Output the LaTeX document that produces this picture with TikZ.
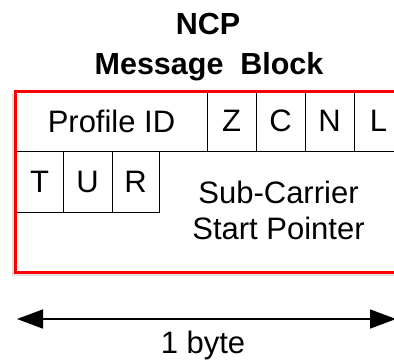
\documentclass[tikz,border=0pt]{standalone}
\usepackage{fontspec}
\setmainfont{Liberation Sans}
\usetikzlibrary{arrows.meta}

\begin{document}
\begin{tikzpicture}[x=1pt, y=-1pt, >={Triangle[length=26pt,width=19pt]},
  big/.style={font=\fontsize{31}{36}\selectfont},
  title/.style={font=\fontsize{30.5}{36}\selectfont\bfseries, anchor=base},
  cell/.style={draw, line width=0.8pt, minimum height=61pt, inner sep=0pt, big}]
\clip (0,0) rectangle (394,360);

% Title
\node[title] (ncp) at (208,34) {NCP};
\node[title] (block) at (209,74) {Message\hspace{0.55em}Block};

% Shadow of the block
\draw[black!12, line width=3pt] (13.5,94) -- (13.5,274) -- (420,274);

% First row: profile and flags
\node[cell, minimum width=191pt] (profile) at (111.5,121) {Profile ID};
\node[cell, minimum width=49pt] (z) at (231.5,121) {Z};
\node[cell, minimum width=49pt] (c) at (280.5,121) {C};
\node[cell, minimum width=49pt] (n) at (329.5,121) {N};
\node[cell, minimum width=49pt] (l) at (378.5,121) {L};

% Second row: flags and pointer
\node[cell, minimum width=47pt] (t) at (39.5,181.5) {T};
\node[cell, minimum width=49pt] (u) at (87.5,181.5) {U};
\node[cell, minimum width=47pt] (r) at (135.5,181.5) {R};
\node[big, align=center] (pointer) at (278.5,210) {Sub-Carrier\\Start Pointer};

% Outer red frame
\draw[red, line width=3pt] (15.5,91.5) rectangle (430,272);

% Width arrow
\coordinate (left) at (17,319);
\coordinate (right) at (396,319);
\draw[<->, line width=1.6pt] (left) -- (right);
\node[big, anchor=base] (byte) at (203,353) {1 byte};

\end{tikzpicture}
\end{document}
